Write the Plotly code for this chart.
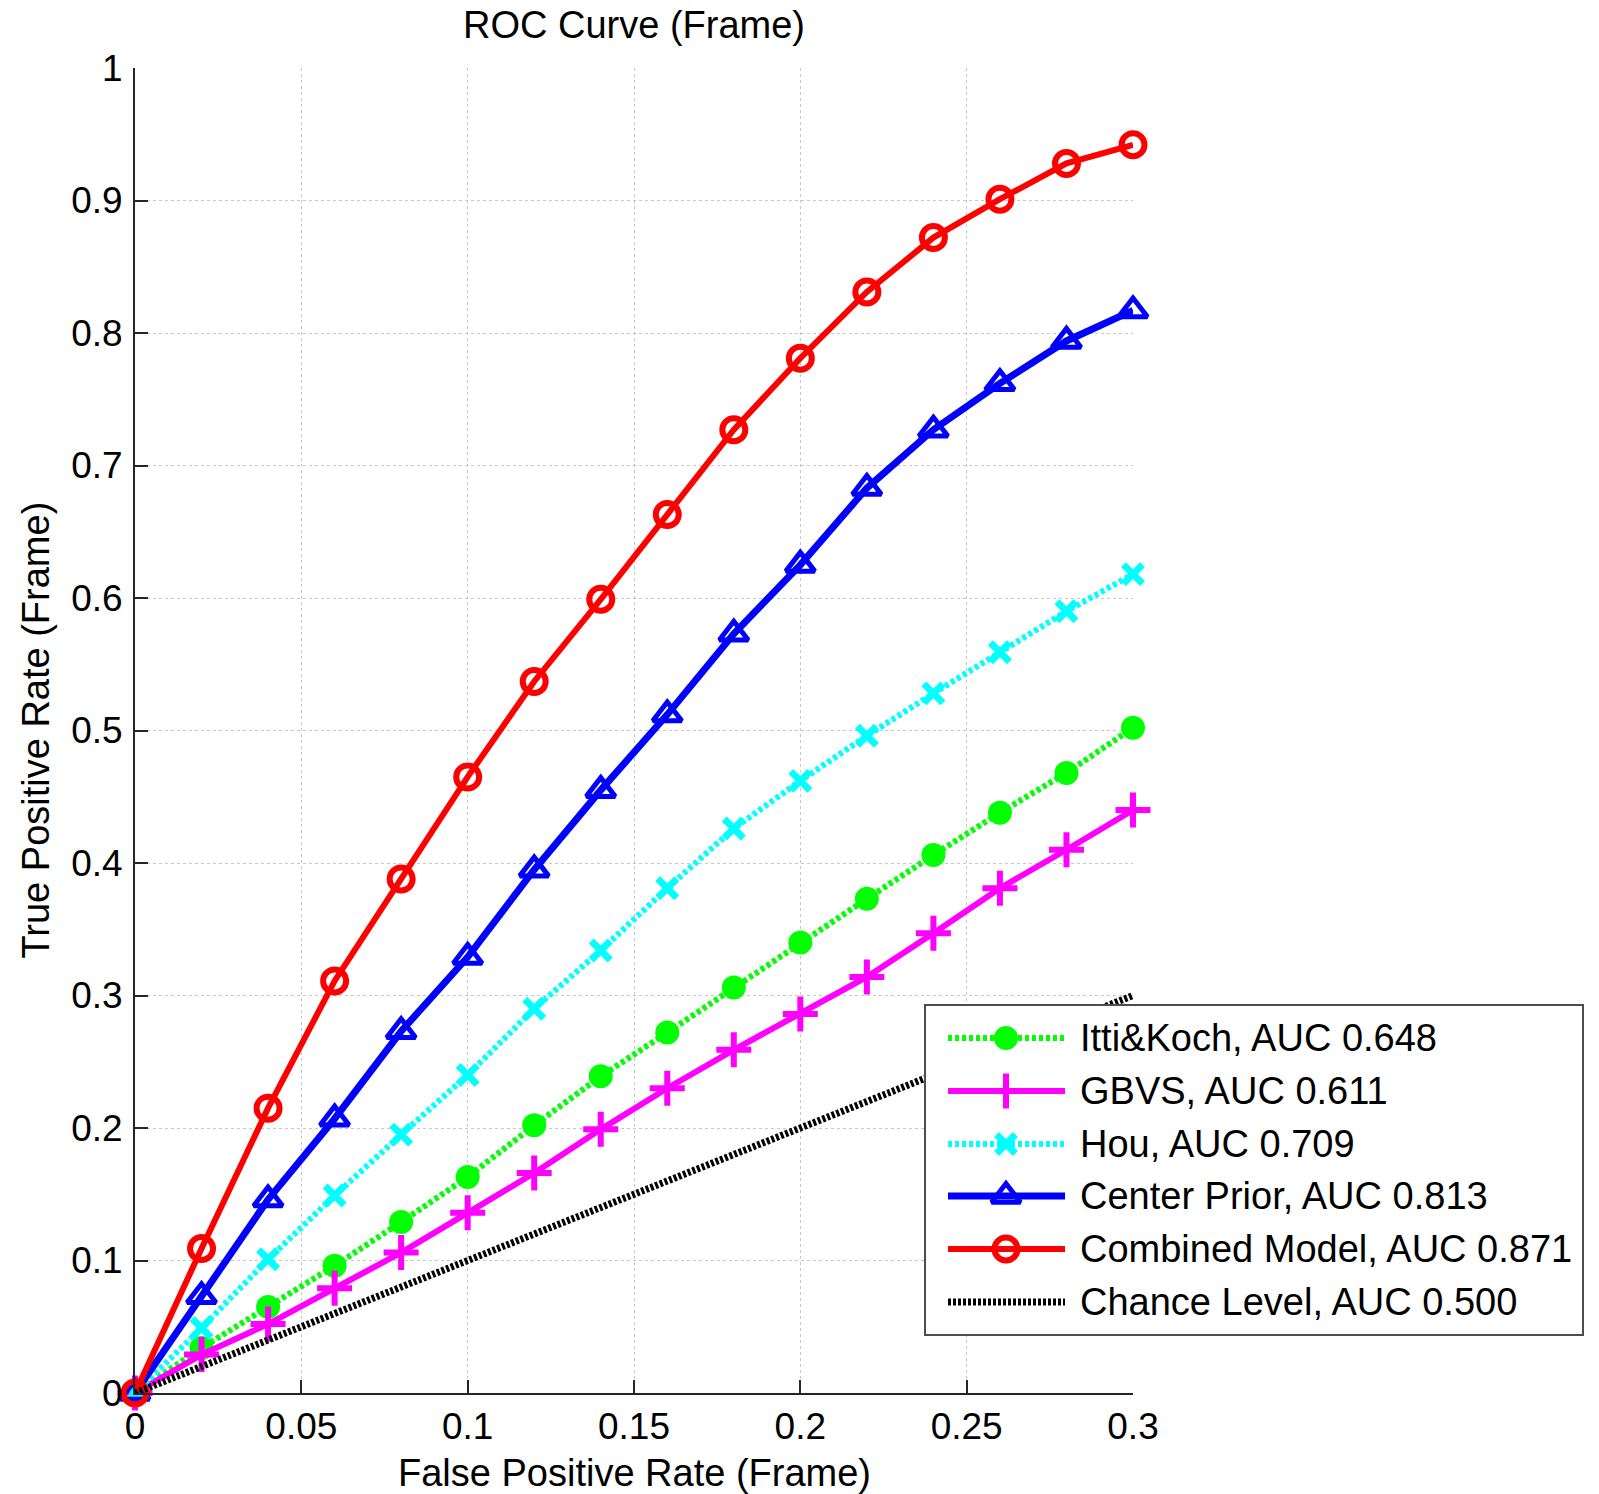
import plotly.graph_objects as go

# ---- data -----------------------------------------------------------------
fpr = [0.00, 0.02, 0.04, 0.06, 0.08, 0.10, 0.12, 0.14,
       0.16, 0.18, 0.20, 0.22, 0.24, 0.26, 0.28, 0.30]

tpr_itti = [0.000, 0.034, 0.065, 0.096, 0.129, 0.163, 0.202, 0.239,
            0.272, 0.306, 0.340, 0.373, 0.406, 0.438, 0.468, 0.502]
tpr_gbvs = [0.000, 0.029, 0.052, 0.079, 0.106, 0.136, 0.166, 0.199,
            0.230, 0.259, 0.286, 0.314, 0.347, 0.381, 0.410, 0.440]
tpr_hou = [0.000, 0.049, 0.101, 0.149, 0.195, 0.240, 0.290, 0.334,
           0.381, 0.426, 0.462, 0.496, 0.528, 0.559, 0.590, 0.618]
tpr_center = [0.000, 0.073, 0.146, 0.207, 0.273, 0.329, 0.395, 0.455,
              0.512, 0.573, 0.625, 0.683, 0.727, 0.762, 0.794, 0.817]
tpr_combined = [0.000, 0.109, 0.215, 0.311, 0.388, 0.465, 0.537, 0.599,
                0.663, 0.727, 0.781, 0.831, 0.872, 0.901, 0.928, 0.942]
chance_x = [0.0, 0.3]
chance_y = [0.0, 0.3]

series_names = ["Itti&Koch, AUC 0.648", "GBVS, AUC 0.611", "Hou, AUC 0.709",
                "Center Prior, AUC 0.813", "Combined Model, AUC 0.871",
                "Chance Level, AUC 0.500"]

x_ticks = [0, 0.05, 0.1, 0.15, 0.2, 0.25, 0.3]
x_tick_labels = ["0", "0.05", "0.1", "0.15", "0.2", "0.25", "0.3"]
y_ticks = [0, 0.1, 0.2, 0.3, 0.4, 0.5, 0.6, 0.7, 0.8, 0.9, 1.0]
y_tick_labels = ["0", "0.1", "0.2", "0.3", "0.4", "0.5", "0.6", "0.7",
                 "0.8", "0.9", "1"]

# ---- styling --------------------------------------------------------------
W, H = 1599, 1494
FONT = "Liberation Sans, Arial, Helvetica, sans-serif"
AXIS_COLOR = "#262626"

# plot area in pixels (left, right, top, bottom)
AX_L, AX_R, AX_T, AX_B = 135, 1133, 68, 1393
# legend box in pixels
LG_L, LG_R, LG_T, LG_B = 926, 1582, 1006, 1334


def px_x(p):
    return p / W


def px_y(p):
    return 1 - p / H


styles = [
    dict(color="#00ff00", dash="4px,3px", width=6,
         marker=dict(symbol="circle", size=24, color="#00ff00",
                     line=dict(width=0))),
    dict(color="#ff00ff", dash="solid", width=6,
         marker=dict(symbol="cross-thin", size=25,
                     line=dict(width=6, color="#ff00ff"))),
    dict(color="#00ffff", dash="4px,3px", width=6,
         marker=dict(symbol="x-thin", size=19,
                     line=dict(width=7, color="#00ffff"))),
    dict(color="#0000ff", dash="solid", width=7,
         marker=dict(symbol="triangle-up-open", size=25, color="#0000ff",
                     line=dict(width=5, color="#0000ff"))),
    dict(color="#ff0000", dash="solid", width=6,
         marker=dict(symbol="circle-open", size=23, color="#ff0000",
                     line=dict(width=6, color="#ff0000"))),
    dict(color="#000000", dash="3px,2px", width=7, marker=None),
]

curves = [tpr_itti, tpr_gbvs, tpr_hou, tpr_center, tpr_combined]

fig = go.Figure()

for name, ys, st in zip(series_names[:5], curves, styles[:5]):
    fig.add_trace(go.Scatter(
        x=fpr, y=ys, name=name, mode="lines+markers",
        line=dict(color=st["color"], dash=st["dash"], width=st["width"]),
        marker=st["marker"], cliponaxis=False, showlegend=False,
        xaxis="x", yaxis="y"))

st = styles[5]
fig.add_trace(go.Scatter(
    x=chance_x, y=chance_y, name=series_names[5], mode="lines",
    line=dict(color=st["color"], dash=st["dash"], width=st["width"]),
    showlegend=False, xaxis="x", yaxis="y"))

# ---- legend drawn on its own small axes (units = pixels inside the box) ----
lg_w = LG_R - LG_L
lg_h = LG_B - LG_T
row_y = [32, 85, 138, 190, 243, 296]
line_x0, line_x1, mark_x, text_x = 22, 139, 80, 152

for name, st, ry in zip(series_names, styles, row_y):
    fig.add_trace(go.Scatter(
        x=[line_x0, line_x1], y=[ry, ry], mode="lines",
        line=dict(color=st["color"], dash=st["dash"], width=st["width"]),
        showlegend=False, hoverinfo="skip", xaxis="x2", yaxis="y2"))
    if st["marker"] is not None:
        fig.add_trace(go.Scatter(
            x=[mark_x], y=[ry], mode="markers", marker=st["marker"],
            showlegend=False, hoverinfo="skip", xaxis="x2", yaxis="y2"))
    fig.add_annotation(
        x=text_x, y=ry, xref="x2", yref="y2", text=name, showarrow=False,
        xanchor="left", yanchor="middle",
        font=dict(family=FONT, size=38, color="#000000"))

# white box behind the legend entries
fig.add_shape(type="rect", xref="x2", yref="y2", x0=0, x1=lg_w, y0=0, y1=lg_h,
              fillcolor="white", line=dict(width=0), layer="below")

# ---- axis titles and chart title -----------------------------------------
fig.add_annotation(
    x=px_x((AX_L + AX_R) / 2), y=px_y(1473), xref="paper", yref="paper",
    text="False Positive Rate (Frame)", showarrow=False,
    xanchor="center", yanchor="middle",
    font=dict(family=FONT, size=38, color="#000000"))
fig.add_annotation(
    x=px_x(35), y=px_y((AX_T + AX_B) / 2), xref="paper", yref="paper",
    text="True Positive Rate (Frame)", showarrow=False, textangle=-90,
    xanchor="center", yanchor="middle",
    font=dict(family=FONT, size=38, color="#000000"))
fig.add_annotation(
    x=px_x((AX_L + AX_R) / 2), y=px_y(25), xref="paper", yref="paper",
    text="ROC Curve (Frame)", showarrow=False,
    xanchor="center", yanchor="middle",
    font=dict(family=FONT, size=38, color="#000000"))

axis_common = dict(
    showline=True, linecolor=AXIS_COLOR, linewidth=2, mirror=False,
    ticks="inside", ticklen=13, tickwidth=2, tickcolor=AXIS_COLOR,
    showgrid=True, gridcolor="#c8c8c8", gridwidth=1, griddash="dot",
    zeroline=False, tickfont=dict(family=FONT, size=37, color="#000000"),
    fixedrange=True, automargin=False,
)

legend_axis = dict(showgrid=False, zeroline=False, showticklabels=False,
                   ticks="", showline=True, mirror=True, linecolor="#4d4d4d",
                   linewidth=2, fixedrange=True, automargin=False)

fig.update_layout(
    width=W, height=H,
    margin=dict(l=0, r=0, t=0, b=0, pad=0),
    paper_bgcolor="white", plot_bgcolor="white",
    showlegend=False,
    xaxis=dict(domain=[px_x(AX_L), px_x(AX_R)], range=[0, 0.3],
               tickvals=x_ticks, ticktext=x_tick_labels, anchor="y",
               **axis_common),
    yaxis=dict(domain=[px_y(AX_B), px_y(AX_T)], range=[0, 1],
               tickvals=y_ticks, ticktext=y_tick_labels, anchor="x",
               ticklabelstandoff=3, **axis_common),
    xaxis2=dict(domain=[px_x(LG_L), px_x(LG_R)], range=[0, lg_w],
                anchor="y2", **legend_axis),
    yaxis2=dict(domain=[px_y(LG_B), px_y(LG_T)], range=[lg_h, 0],
                anchor="x2", **legend_axis),
)

fig.write_html("out.html")
